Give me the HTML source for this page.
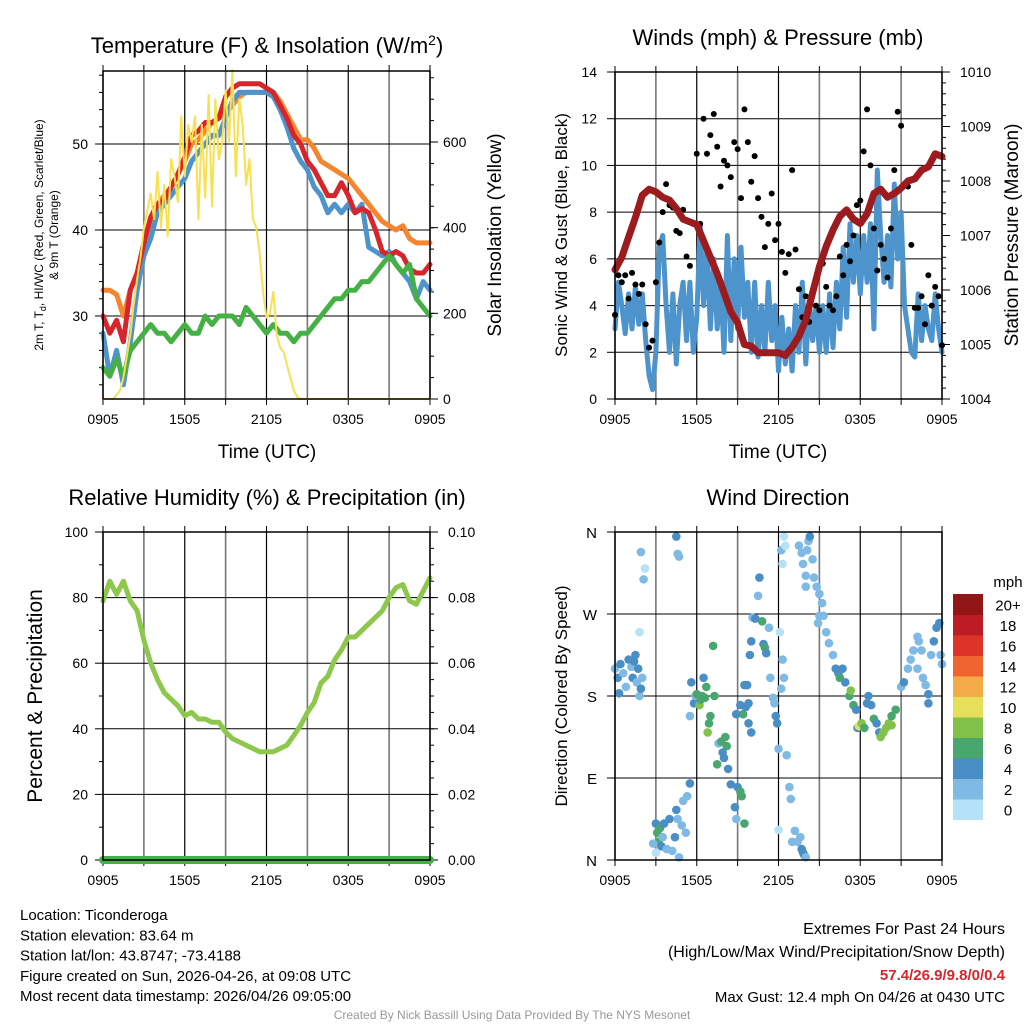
<!DOCTYPE html>
<html><head><meta charset="utf-8"><style>
body{margin:0;background:#fff;}
svg{display:block;font-family:"Liberation Sans",Arial,sans-serif;}
</style></head><body>
<svg id="c" width="1024" height="1024" viewBox="0 0 1024 1024">
<rect width="1024" height="1024" fill="#fff"/>
</svg>
<script>
// ---------- DATA ----------
const xTickLabels = ["0905","1505","2105","0305","0905"];
const tempRed = [30,28,29.5,27,33,35,38.5,41.5,43,43.5,45,46.5,48.5,51,51.5,52.5,52.5,53,55.5,56.5,57,57,57,57,56.5,56,54.5,53,51,50,48,47,45.5,44,44,45.5,44,42,42.5,42,40,37.5,37,37.5,37,35.5,35,35,36];
const tempOrange = [33,33,32.5,30,33,35,38,41,43,44,45,46.5,48,50,50.5,51.5,52.5,53,53.5,54.5,55.5,56,56,56,56,56,55,53.5,52,50.5,50.5,49.5,48,47.5,47,46.5,46,45,44,43,42,41,40.5,40,40.5,39,38.5,38.5,38.5];
const tempBlue = [28,23,26,22,27,33,37,39,42,43,44,45,46,48,49,50,51,51,53,55,56,56,56,56,56,55.5,54,52,49.5,48,47,45,44,42,43,42,43,42,43,38,37.5,37,37.5,36,35,34,32,34,33];
const dewGreen = [24,23,25,23,26,27,28,29,28,28,27,28,29,28,28,30,29,30,30,30,29,31,30,29,28,29,28,28,27,28,28,29,30,31,32,32,33,33,34,34,35,36,37,36,35,36,32,31,30];
const insolation = [0,0,0,0,10,20,50,100,150,220,280,330,400,440,480,420,530,400,500,380,560,520,460,660,520,640,600,660,420,640,470,710,450,700,560,600,720,600,768,520,700,640,500,560,420,400,340,250,190,200,250,150,120,110,80,50,20,5,0,0,0,0,0,0,0,0,0,0,0,0,0,0,0,0,0,0,0,0,0,0,0,0,0,0,0,0,0,0,0,0,0,0,0,0,0,0,0];
const windSonic = [3,5,4,2.8,4.5,3,4.8,3.2,4.5,2.5,1,0.4,2,6.5,7,4,2,4.5,1.5,4,5,2.5,5,2,3.5,7.5,4,6.5,3,6,3,5,2,7,2.5,6,3,6.5,3.5,5,2,5,1.8,4,2,5,2.5,4,1.2,3.5,1.5,3,1.2,4,2,5,1.5,4.2,2.5,4,2,4,2,4.5,2.2,5,3,6.5,3.5,7.5,5,7,4.5,7,5,7.5,3,9.8,7,5,7,4.8,9.2,6,8,4,3,2,1.8,4.5,2.5,4,3,2.5,4.5,3,2];
const windGust = [3.6,5.3,5,5.3,4.3,5.4,4.9,4.5,4.9,3.2,2.2,2.5,5,6.7,8,9.2,8.3,8.2,7.2,7.1,8.1,6.1,5.7,7.5,10.5,7.5,12,10.5,11.3,12.2,10.8,9.1,10.2,10,9.5,11,10.7,8.6,12.4,11,9.3,10.4,8.6,7.8,6.5,7.5,8.8,6.8,7.5,6.3,5.4,6.2,9.8,6.4,4.7,3.5,4.4,3.3,4.6,4,3.8,5.8,4.8,4,3.8,4.4,6.1,5.3,6.6,5.9,7,8.3,8.5,10.6,12.4,10,7.3,5.5,6.6,6,5.2,7.3,9.8,12.3,11.7,9.2,9.1,6.6,3.9,3.9,4.4,3.2,5.3,4,4.8,4.4,2.3];
const pressure = [1006.37,1006.6,1006.97,1007.33,1007.74,1007.85,1007.8,1007.7,1007.65,1007.5,1007.3,1007.25,1007.2,1006.9,1006.6,1006.3,1005.95,1005.6,1005.4,1005.0,1004.97,1004.85,1004.85,1004.85,1004.85,1004.8,1004.95,1005.15,1005.45,1005.95,1006.43,1006.8,1007.1,1007.35,1007.47,1007.3,1007.22,1007.4,1007.77,1007.85,1007.7,1007.77,1007.87,1008.0,1008.04,1008.2,1008.26,1008.5,1008.45];
const rhValues = [79,85,81,85,79,76,67,60,55,51,49,47,44,45,43,43,42,42,39,37,36,35,34,33,33,33,34,35,38,41,45,48,54,56,61,64,68,68,70,72,74,76,80,83,84,79,78,82,86];
const precipValues = [0,0,0,0,0,0,0,0,0,0,0,0,0,0,0,0,0,0,0,0,0,0,0,0,0];
const wdTime = [0,0.2,0.4,0.6,0.8,1,1.2,1.3,1.5,1.6,1.7,1.8,1.9,2,0.3,1.4, 1.9,2.1,2.2,1.8, 3,3.1,3.2,3.3,3.4,3.5,3.6,3.8,4,4.2,4.4,4.5,4.7,4.9,5,5.3,5.5,5.2,3,2.8,4.6, 4.5,4.6,4.7, 5.5,5.6,5.8,5.9,6,6.2,6.3,6.4,6.5,6.6,6.7,6.8,6.9,7,7.2,7.3,7.6,7.8,8,8.2,8.3,7.9,8.1,7.5, 8.5,8.8,8.9,9,9.2,9.3,9.5,9.8,10,9.4,9.6, 8.9,9.2,9.5,9.7,9.8,9.9,10,10.1,10.3,10.5,10.6,10.8,10.9,11,11.1,11.3,11.4,11.6,11.7,11.8,11.9,12,12.1,12.3,12.4,12.2, 12.2,12.4,12.5,12.3,12,12.6,12.8,12.9,13,13.2,13.4,13.6,13.7,13.8,13.9,14, 13.5,13.7,13.8,14,14.2,14.3,14.1,14.5,14,14.6,14.8,15,15.2,15.3,15.5,15.7,16,15,14.9,16.2,16.4,16.5,16.7,16.9, 17.2,17.3,17.5,17.7,17.8,17.9,18.1,18.3,18.5,18.6,18.8,19,19.2,19.4,19.5,19.7,19.9,20.1,20.3,20.6,20.3, 21,21.2,21.5,21.7,21.9,22.2,22.3,22.6,22.8,23,23.2,23.4,23.6,23.8,24,23.9,23,22.2,22.5];
const wdDir = [210,200,215,205,190,220,212,200,225,195,210,180,188,200,183,218, 338,308,320,250, 40,30,20,35,15,25,40,12,45,10,25,55,3,38,65,70,84,30,8,18,45, 355,336,333, 158,195,172,180,182,170,176,180,200,178,190,140,150,158,235,180,128,130,112,125,100,118,135,105, 83,58,45,80,75,70,40,150,140,160,168, 160,170,192,192,172,225,240,266,265,290,310,262,237,233,227,255,200,178,172,158,150,122,250,220,200,188, 340,355,345,325,33,115,80,67,20,32,20,25,12,8,5,3, 345,337,325,312,350,355,340,330,300,310,300,292,282,268,250,238,225,268,260,210,205,200,210,195, 180,186,170,165,145,147,150,145,172,180,170,155,150,140,135,140,145,150,148,165,158, 190,195,210,220,230,245,240,200,192,182,225,240,255,260,215,225,172,210,230];
const wdSpeed = [3,4,4,3,3,4,2,4,4,3,4,2,4,3,4,4, 2,2,1,1, 4,6,6,6,4,2,4,2,4,2,4,4,2,3,2,2,4,2,1,2,2, 4,3,3, 2,4,4,2,6,8,6,6,4,6,6,8,6,6,6,6,2,6,4,6,4,4,6,6, 4,4,2,4,6,6,6,4,4,6,4, 4,4,4,4,4,4,4,3,4,2,4,6,4,6,4,3,2,3,3,4,4,2,1,2,2,2, 2,1,1,1,0,2,2,2,2,2,2,2,4,4,4,3, 2,2,2,2,2,4,3,2,2,2,2,2,2,2,2,2,2,2,2,4,4,6,4,4, 6,8,6,4,4,10,8,6,4,4,4,6,4,4,8,8,8,8,8,6,6, 2,4,2,2,2,2,2,2,2,4,2,4,4,4,2,2,4,2,2];
const speedLabels = ["0","2","4","6","8","10","12","14","16","18","20+"];
const speedColors = ["#b5e2f8","#7fbae4","#4a8ec6","#4aa66f","#82c14a","#e6df5a","#f5aa48","#ef6530","#de3428","#bd1c24","#921518"];

// ---------- HELPERS ----------
const NS="http://www.w3.org/2000/svg";
const svg=document.getElementById('c');
function mk(tag,attrs,parent){const e=document.createElementNS(NS,tag);for(const k in attrs)e.setAttribute(k,attrs[k]);(parent||svg).appendChild(e);return e;}
function txt(s,x,y,size,anchor,parent,extra){const e=mk('text',Object.assign({x:x,y:y,'font-size':size,'text-anchor':anchor||'middle',fill:'#000'},extra||{}),parent);e.textContent=s;return e;}

function panel(name,x0,y0,x1,y1){
  const g=mk('g',{});
  
  
  const sx=t=>x0+t/24*(x1-x0);
  for(let i=0;i<=8;i++){
    const x=sx(i*3);
    const l=mk('line',{x1:x,x2:x,y1:y0,y2:y1,stroke:(i%2==0?'#000':'#777'),'stroke-width':(i%2==0?1.2:1.6)},g);
    
    
    mk('line',{x1:x,x2:x,y1:y1,y2:y1+6,stroke:'#000','stroke-width':1},g);
    mk('line',{x1:x,x2:x,y1:y0,y2:y0-6,stroke:'#000','stroke-width':1},g);
  }
  xTickLabels.forEach((s,i)=>{const t=txt(s,sx(i*6),y1+25,14,'middle',g);});
  return {g,sx};
}
function hgrid(g,x0,x1,y,major){
  mk('line',{x1:x0,x2:x1,y1:y,y2:y,stroke:'#000','stroke-width':1},g);
  mk('line',{x1:x0-8,x2:x0,y1:y,y2:y,stroke:'#000','stroke-width':1},g);
}
function polyline(g,xs,ys,color,w,name){
  let d='';for(let i=0;i<xs.length;i++)d+=(i?'L':'M')+xs[i].toFixed(1)+','+ys[i].toFixed(1);
  const p=mk('path',{d:d,fill:'none',stroke:color,'stroke-width':w,'stroke-linejoin':'round','stroke-linecap':'round'},g);
  
  
  return p;
}
function frame(g,x0,y0,x1,y1){mk('rect',{x:x0,y:y0,width:x1-x0,height:y1-y0,fill:'none',stroke:'#000','stroke-width':1.5},g);}

// ---------- PANEL 1: Temperature ----------
(function(){
  const X0=103,Y0=71,X1=430,Y1=399;
  const {g,sx}=panel('temperature-panel',X0,Y0,X1,Y1);
  const yT=v=>316-(v-30)*8.6, yI=v=>399-v*0.4283;
  [30,40,50].forEach(v=>{hgrid(g,X0,X1,yT(v));const t=txt(String(v),88,yT(v)+5,14,'end',g);});
  for(let v=22;v<=58;v+=2){mk('line',{x1:X0-4,x2:X0,y1:yT(v),y2:yT(v),stroke:'#000'},g);}
  [0,200,400,600].forEach(v=>{mk('line',{x1:X1,x2:X1+8,y1:yI(v),y2:yI(v),stroke:'#000'},g);const t=txt(String(v),443,yI(v)+5,14,'start',g);});
  for(let v=50;v<=750;v+=50){mk('line',{x1:X1,x2:X1+4,y1:yI(v),y2:yI(v),stroke:'#000'},g);}
  const tx=a=>a.map((_,i)=>sx(i*24/(a.length-1)));
  polyline(g,tx(tempOrange),tempOrange.map(yT),'#f5852f',5,'series-9m-temp');
  polyline(g,tx(tempBlue),tempBlue.map(yT),'#4d94cc',5,'series-windchill');
  polyline(g,tx(tempRed),tempRed.map(yT),'#d7262b',5,'series-2m-temp');
  polyline(g,tx(dewGreen),dewGreen.map(yT),'#45b145',5,'series-dewpoint');
  polyline(g,tx(insolation),insolation.map(yI),'#f8e04f',2,'series-insolation');
  frame(g,X0,Y0,X1,Y1);
  const t1=txt('',267,53,22,'middle',g);t1.innerHTML='Temperature (F) &amp; Insolation (W/m<tspan dy="-8" font-size="14">2</tspan><tspan dy="8">)</tspan>';
  
  const xl=txt('Time (UTC)',267,458,19,'middle',g);
  const yl=mk('text',{transform:'translate(43,235) rotate(-90)','font-size':12,'text-anchor':'middle'},g);
  yl.innerHTML='2m T, T<tspan dy="3" font-size="9">d</tspan><tspan dy="-3">, HI/WC (Red, Green, Scarlet/Blue)</tspan>';
  
  const yl2=txt('& 9m T (Orange)',0,0,12,'middle',g,{transform:'translate(58,235) rotate(-90)'});
  const yr=txt('Solar Insolation (Yellow)',0,0,19,'middle',g,{transform:'translate(501,235) rotate(-90)'});
  
})();

// ---------- PANEL 2: Winds ----------
(function(){
  const X0=615,Y0=72,X1=942,Y1=399;
  const {g,sx}=panel('winds-panel',X0,Y0,X1,Y1);
  const yW=v=>399-v*(327/14), yP=v=>399-(v-1004)*(327/6);
  for(let v=0;v<=14;v+=2){hgrid(g,X0,X1,yW(v));const t=txt(String(v),597,yW(v)+5,14,'end',g);}
  for(let v=1004;v<=1010;v++){mk('line',{x1:X1,x2:X1+8,y1:yP(v),y2:yP(v),stroke:'#000'},g);const t=txt(String(v),960,yP(v)+5,14,'start',g);}
  for(let v=1004;v<=1010;v+=0.2){mk('line',{x1:X1,x2:X1+4,y1:yP(v),y2:yP(v),stroke:'#000'},g);}
  const tx=a=>a.map((_,i)=>sx(i*24/(a.length-1)));
  polyline(g,tx(windSonic),windSonic.map(yW),'#4d94cc',5,'series-sonic-wind');
  const gx=tx(windGust);
  windGust.forEach((v,i)=>{const c=mk('circle',{cx:gx[i],cy:yW(v),r:3,fill:'#000'},g);
    
    });
  polyline(g,tx(pressure),pressure.map(yP),'#9b1b1e',7,'series-pressure');
  frame(g,X0,Y0,X1,Y1);
  const t1=txt('Winds (mph) & Pressure (mb)',778,45,22,'middle',g);
  const xl=txt('Time (UTC)',778,458,19,'middle',g);
  const yl=txt('Sonic Wind & Gust (Blue, Black)',0,0,17,'middle',g,{transform:'translate(567,235) rotate(-90)'});
  const yr=txt('Station Pressure (Maroon)',0,0,19,'middle',g,{transform:'translate(1018,235) rotate(-90)'});
})();

// ---------- PANEL 3: RH ----------
(function(){
  const X0=103,Y0=532,X1=430,Y1=860;
  const {g,sx}=panel('humidity-panel',X0,Y0,X1,Y1);
  const yR=v=>860-v*3.28, yPr=v=>860-v*3280;
  for(let v=0;v<=100;v+=20){hgrid(g,X0,X1,yR(v));const t=txt(String(v),88,yR(v)+5,14,'end',g);}
  for(let v=10;v<=90;v+=20){mk('line',{x1:X0-4,x2:X0,y1:yR(v),y2:yR(v),stroke:'#000'},g);}
  for(let v=0;v<=0.1001;v+=0.02){mk('line',{x1:X1,x2:X1+8,y1:yPr(v),y2:yPr(v),stroke:'#000'},g);const t=txt(v.toFixed(2),448,yPr(v)+5,14,'start',g);}
  for(let v=0.005;v<0.1;v+=0.005){mk('line',{x1:X1,x2:X1+4,y1:yPr(v),y2:yPr(v),stroke:'#000'},g);}
  const tx=a=>a.map((_,i)=>sx(i*24/(a.length-1)));
  polyline(g,tx(rhValues),rhValues.map(yR),'#8dc74c',5,'series-rh');
  polyline(g,tx(precipValues),precipValues.map(yPr),'#46b048',8,'series-precip');
  frame(g,X0,Y0,X1,Y1);
  const t1=txt('Relative Humidity (%) & Precipitation (in)',267,505,22,'middle',g);
  const yl=txt('Percent & Precipitation',0,0,21,'middle',g,{transform:'translate(42,696) rotate(-90)'});
})();

// ---------- PANEL 4: Wind Direction ----------
(function(){
  const X0=615,Y0=532,X1=942,Y1=860;
  const {g,sx}=panel('wind-direction-panel',X0,Y0,X1,Y1);
  const yD=v=>860-v*328/360;
  ['N','E','S','W','N'].forEach((s,i)=>{hgrid(g,X0,X1,yD(i*90));const t=txt(s,597,yD(i*90)+6,15,'end',g);});
  wdTime.forEach((t,i)=>{
    const idx=Math.min(10,Math.floor(wdSpeed[i]/2));
    const c=mk('circle',{cx:sx(t),cy:yD(wdDir[i]),r:4.3,fill:speedColors[idx]},g);
    
    
  });
  frame(g,X0,Y0,X1,Y1);
  const t1=txt('Wind Direction',778,505,22,'middle',g);
  const yl=txt('Direction (Colored By Speed)',0,0,17,'middle',g,{transform:'translate(567,696) rotate(-90)'});
  // colorbar
  const cb=mk('g',{});
  
  
  const cbTop=594, cbH=20.5;
  speedColors.forEach((col,i)=>{
    const y=cbTop+(10-i)*cbH;
    const r=mk('rect',{x:953,y:y,width:30,height:cbH+0.5,fill:col},cb);
    
    
    const t=txt(speedLabels[i],1008,y+cbH/2+6,15,'middle',cb);
    
    
  });
  const u=txt('mph',1008,587,15,'middle',cb);
})();

// ---------- FOOTER TEXT ----------
(function(){
  const info=mk('g',{});
  
  
  ['Location: Ticonderoga','Station elevation: 83.64 m','Station lat/lon: 43.8747; -73.4188','Figure created on Sun, 2026-04-26, at 09:08 UTC','Most recent data timestamp: 2026/04/26 09:05:00']
   .forEach((s,i)=>txt(s,20,920+i*20.3,15,'start',info));
  const ex=mk('g',{});
  
  
  txt('Extremes For Past 24 Hours',1005,934,16,'end',ex);
  txt('(High/Low/Max Wind/Precipitation/Snow Depth)',1005,957,16,'end',ex);
  txt('57.4/26.9/9.8/0/0.4',1005,980,15,'end',ex,{fill:'#d7262b','font-weight':'bold'});
  txt('Max Gust: 12.4 mph On 04/26 at 0430 UTC',1005,1002,15,'end',ex);
  const cr=txt('Created By Nick Bassill Using Data Provided By The NYS Mesonet',512,1019,12,'middle',null,{fill:'#999'});
  
})();
</script>
</body></html>
